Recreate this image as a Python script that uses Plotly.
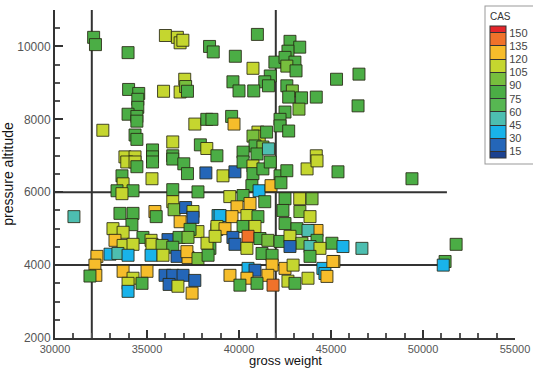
import plotly.graph_objects as go

# Flight-test samples: gross weight (lb), pressure altitude (ft), calibrated airspeed (kt)
gross_weight = [
    32100, 32200, 36000, 36650, 36800, 36950, 38400, 38600, 33970,
    34000, 34550, 34500, 34500, 33970, 34450, 34450,
    35900, 36800, 37050, 37100, 37200,
    32600, 37600, 38250, 34350, 34450, 35300, 36400, 37900, 38250, 33800, 34350, 35300, 36400,
    41000, 42770, 43300, 42660, 39800, 41950, 42500, 43040, 42600, 43100, 40760, 41700, 41400, 41600,
    45300, 39670, 40000, 40800, 42600, 42900, 42700, 43400, 44200, 43260, 42500, 38530, 39600, 39730,
    42230, 42230, 42700, 41030, 41100, 40760, 41500, 40870, 41300, 40220, 40980, 41600, 44200, 38800,
    33900, 34350, 34450, 35300, 36400, 37000, 37200, 38200,
    33640, 35270, 33700, 33370, 34240, 33640, 36400, 37770,
    36400, 36470, 37100, 37500, 37500, 35430, 35500, 33530, 34240, 34180, 36800, 38860,
    33150, 33700, 37770, 37340,
    33260, 34780, 35220, 36140, 36740, 37230, 38800,
    33700, 34240, 35270, 35820, 36400, 38420, 38260,
    32990, 33420, 33970, 35220, 35870, 36630, 37230, 37170, 37770, 38320,
    32280, 32170, 32220,
    33700, 35000, 34240, 33970, 34730, 33970,
    35980, 36400, 36960, 37600, 36200, 36680, 37450,
    31030, 31900,
    39130, 39780, 40220, 40760, 40760, 41300, 41700, 42230, 42600, 43700, 44240, 45380,
    40700, 41090, 41740, 42280,
    39500, 40220, 41400, 42500, 43300, 43970,
    40600, 39890, 38970, 39620, 40430, 41030, 42390, 43310, 43860,
    38800, 39240, 40220, 40870, 42500, 43150, 44240, 43750,
    38700, 39670, 40490, 41140, 41570, 42230, 42770, 44240, 45050, 45650, 43420,
    39780, 40430, 42770, 43860, 44400,
    41250, 41800, 43860,
    40490, 40870, 41800, 42500, 42940, 44560, 45160, 44670,
    39510, 40430, 41570, 44780, 43750, 42660, 43040, 41850, 40980, 40050,
    46520, 46470, 49400, 46680, 51800, 51200, 51100, 45100,
]
pressure_altitude = [
    10250, 10050, 10300, 10250, 10100, 10170, 10000, 9850, 9830,
    8820, 8710, 8550, 8330, 8140, 8080, 7950,
    8770, 8750, 9100, 8900, 8770,
    7700, 7870, 8000, 7570, 7450, 7160, 7380, 7300, 7200, 6970, 6970, 6970, 7000,
    10330, 10140, 9980, 9870, 9730, 9570, 9700, 9570, 9460, 9330, 9400, 9190, 9030, 8920,
    9100, 9030, 8780, 8780, 8920, 8780, 8610, 8590, 8610, 8280, 8200, 8000, 8080, 7870,
    8000, 7820, 7680, 7650, 7540, 7540, 7650, 7270, 7240, 7100, 7050, 7190, 7000, 7000,
    6830, 6830, 6700, 6830, 6910, 6780, 6510, 6530,
    6450, 6370, 6230, 6040, 6040, 5960, 6070, 6010,
    5740, 5520, 5580, 5470, 5310, 5470, 5330, 5420, 5420, 5110, 5190, 5360,
    5000, 4900, 4920, 4980,
    4680, 4760, 4680, 4700, 4760, 4760, 4980,
    4540, 4570, 4570, 4540, 4490, 4460, 4600,
    4300, 4320, 4270, 4270, 4270, 4240, 4210, 4370, 4180, 4270,
    4240, 4000, 3720,
    3830, 3830, 3640, 3500, 3500, 3280,
    3720, 3720, 3720, 3580, 3470, 3420, 3230,
    5330, 3700,
    6450, 6560, 6830, 6720, 6510, 6640, 6830, 6450, 6590, 6640, 6860, 6560,
    6180, 6040, 6180, 6260,
    5880, 5910, 5740, 5820, 5820, 5820,
    5690, 5600, 5360, 5330, 5360, 5330, 5500, 5470, 5330,
    5060, 5000, 5060, 5060, 5140, 5000, 4950, 4950,
    4790, 4760, 4790, 4730, 4680, 4650, 4790, 4680, 4600, 4510, 4600,
    4570, 4460, 4510, 4510, 4460,
    4320, 4270, 4240,
    3910, 3860, 4000, 3910, 4000, 3910, 4100, 3770,
    3720, 3640, 3720, 3690, 3640, 3560, 3500, 3450, 3500, 3450,
    9240, 8370, 6370, 4460, 4570, 4100, 4000, 4100,
]
cas = [
    82, 82, 112, 112, 112, 112, 82, 82, 82,
    82, 82, 82, 82, 82, 82, 82,
    112, 112, 112, 97, 82,
    112, 112, 82, 82, 82, 82, 112, 82, 112, 112, 112, 82, 82,
    82, 82, 82, 82, 82, 82, 82, 82, 97, 82, 112, 82, 82, 82,
    82, 82, 82, 82, 82, 97, 82, 82, 82, 97, 82, 82, 82, 125,
    82, 82, 82, 112, 112, 97, 82, 82, 97, 82, 82, 52, 112, 82,
    112, 112, 82, 82, 82, 82, 82, 22,
    82, 112, 112, 82, 82, 112, 82, 82,
    112, 97, 22, 112, 22, 125, 82, 82, 82, 82, 125, 38,
    112, 112, 112, 82,
    125, 82, 112, 22, 82, 97, 82,
    112, 112, 112, 97, 82, 82, 112,
    38, 52, 38, 38, 112, 22, 125, 125, 97, 82,
    125, 125, 125,
    125, 125, 112, 112, 82, 38,
    22, 22, 22, 22, 22, 112, 125,
    52, 82,
    112, 22, 82, 112, 82, 82, 82, 82, 82, 112, 112, 82,
    82, 38, 125, 82,
    112, 82, 82, 82, 112, 97,
    125, 125, 38, 125, 112, 82, 82, 97, 112,
    112, 125, 82, 112, 82, 82, 125, 52,
    112, 22, 142, 82, 97, 82, 112, 82, 82, 38, 97,
    22, 112, 22, 52, 112,
    82, 82, 82,
    38, 22, 125, 125, 112, 38, 125, 38,
    125, 125, 125, 125, 112, 112, 82, 142, 82, 82,
    82, 82, 82, 52, 82, 82, 38, 125,
]

# CAS contour levels and their band colours (lowest band first)
cas_levels = [15, 30, 45, 60, 75, 90, 105, 120, 135, 150]
band_colors = ["#1c4290", "#2466b8", "#19b3ea", "#4dbeb0", "#57b752",
               "#4bad45", "#77be3d", "#c5d62f", "#f6bd2b", "#f0722a", "#e4252a"]
cas_min, cas_max = 7.5, 157.5

# Reference limits
ref_weights = [32000, 42000]
ref_altitudes = [4000, 6000]
alt_span = [2000, 11000]
weight_span = [30000, 51300]

# Stepped colour scale built from the levels
edges = [cas_min] + cas_levels + [cas_max]
colorscale = []
for i, c in enumerate(band_colors):
    lo = (edges[i] - cas_min) / (cas_max - cas_min)
    hi = (edges[i + 1] - cas_min) / (cas_max - cas_min)
    colorscale.append([lo, c])
    colorscale.append([hi, c])

fig = go.Figure()

line_style = dict(color="#333333", width=2)
for w in ref_weights:
    fig.add_shape(type="line", xref="x", yref="y", x0=w, x1=w,
                  y0=alt_span[0], y1=alt_span[1], line=line_style, layer="below")
for a in ref_altitudes:
    fig.add_shape(type="line", xref="x", yref="y", x0=weight_span[0], x1=weight_span[1],
                  y0=a, y1=a, line=line_style, layer="below")

fig.add_trace(go.Scatter(
    x=gross_weight, y=pressure_altitude, mode="markers",
    marker=dict(
        symbol="square", size=12, color=cas, colorscale=colorscale,
        cmin=cas_min, cmax=cas_max,
        line=dict(color="rgba(40,40,20,0.85)", width=1),
        showscale=True,
        colorbar=dict(
            title=dict(text="   CAS", side="top", font=dict(size=10, color="#333")),
            tickvals=cas_levels, ticktext=[str(v) for v in cas_levels],
            ticks="inside", ticklen=16, tickcolor="#333", tickwidth=1,
            tickfont=dict(size=11, color="#444"),
            thickness=16, lenmode="pixels", len=156,
            x=0.938, xanchor="left", y=1.012, yanchor="top",
            xpad=4, ypad=4,
            outlinecolor="#333", outlinewidth=1,
            bgcolor="white", bordercolor="#999", borderwidth=1,
        ),
    ),
    showlegend=False,
))

# Bottom axis caption pinned to the lower edge of the page
fig.add_annotation(
    text="gross weight", xref="paper", yref="paper", x=0.5, y=-0.095,
    xanchor="center", yanchor="bottom", borderpad=0, showarrow=False,
    font=dict(size=13, color="#111"),
)

fig.update_layout(
    width=533, height=369,
    margin=dict(l=55, r=18, t=10, b=31, autoexpand=False),
    paper_bgcolor="white", plot_bgcolor="white",
    font=dict(family="Liberation Sans, Arial, sans-serif"),
    xaxis=dict(
        range=[30000, 55000], tickvals=[30000, 35000, 40000, 45000, 50000, 55000],
        tickformat="d",
        ticks="inside", ticklen=8, tickcolor="#333", tickwidth=1.5,
        minor=dict(dtick=1000, ticks="inside", ticklen=5, tickcolor="#555"),
        showline=True, linecolor="#333", linewidth=2, showgrid=False, zeroline=False,
        tickfont=dict(size=11, color="#555"),
    ),
    yaxis=dict(
        range=[2000, 11000], tickvals=[2000, 4000, 6000, 8000, 10000],
        tickformat="d",
        ticks="inside", ticklen=8, tickcolor="#333", tickwidth=1.5,
        minor=dict(dtick=500, ticks="inside", ticklen=5, tickcolor="#555"),
        showline=True, linecolor="#333", linewidth=2, showgrid=False, zeroline=False,
        tickfont=dict(size=12, color="#555"),
        title=dict(text="pressure altitude", font=dict(size=14, color="#111"), standoff=4),
    ),
)

fig.write_html("out.html")
